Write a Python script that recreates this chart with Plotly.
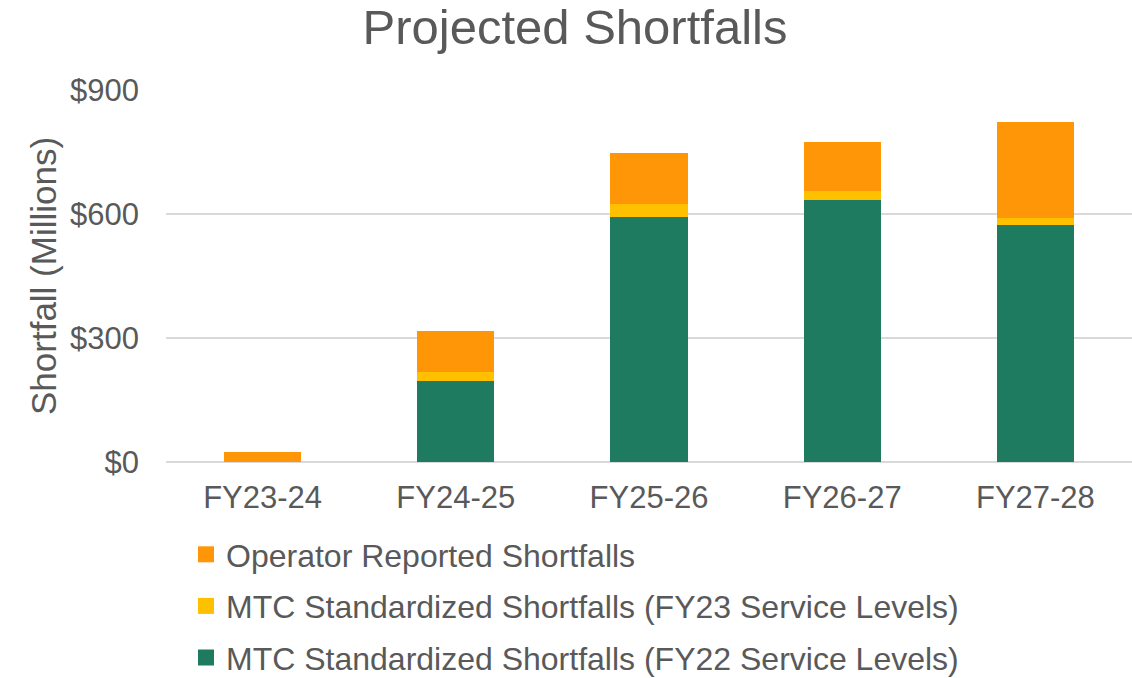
import plotly.graph_objects as go

categories = ["FY23-24", "FY24-25", "FY25-26", "FY26-27", "FY27-28"]
# Stacked segment values ($ millions)
mtc_fy22 = [0, 195, 593, 635, 573]
mtc_fy23 = [0, 22, 30, 20, 18]
operator = [24, 101, 125, 118, 231]

series_names = [
    "MTC Standardized Shortfalls (FY22 Service Levels)",
    "MTC Standardized Shortfalls (FY23 Service Levels)",
    "Operator Reported Shortfalls",
]
colors = ["#1E7B60", "#FFC000", "#FF9608"]
y_ticks = [0, 300, 600, 900]
y_tick_text = ["$0", "$300", "$600", "$900"]

FONT = "Liberation Sans, Arial, sans-serif"
TXT = "#595959"

fig = go.Figure()
for name, vals, col in zip(series_names, [mtc_fy22, mtc_fy23, operator], colors):
    fig.add_trace(go.Bar(x=categories, y=vals, name=name, marker=dict(color=col, line=dict(width=0)),
                         showlegend=False, legendgroup=name))
# legend entries (top to bottom: operator, FY23, FY22)
for name, col in reversed(list(zip(series_names, colors))):
    fig.add_trace(go.Scatter(x=[None], y=[None], mode="markers", name=name, legendgroup=name,
                             marker=dict(symbol="square", size=16, color=col)))

W, H = 1132, 678
fig.update_layout(
    width=W, height=H,
    barmode="stack", bargap=0.6,
    plot_bgcolor="white", paper_bgcolor="white",
    margin=dict(l=166, r=0, t=90, b=216, autoexpand=False),
    font=dict(family=FONT, size=31, color=TXT),
    title=dict(text="Projected Shortfalls", x=575 / W, xanchor="center", xref="container",
               y=1 - 27 / H, yanchor="middle", yref="container",
               font=dict(size=49, color=TXT, family=FONT)),
    legend=dict(orientation="v", traceorder="grouped", tracegroupgap=7,
                x=186 / W, xref="container", xanchor="left",
                y=1 - 527 / H, yref="container", yanchor="top",
                font=dict(size=32, color=TXT, family=FONT), itemwidth=30),
    xaxis=dict(showgrid=False, showline=False, ticks="", tickfont=dict(size=31, color=TXT),
               ticklabelstandoff=14),
    yaxis=dict(range=[0, 900], tickvals=y_ticks, ticktext=y_tick_text,
               showgrid=True, gridcolor="#D9D9D9", gridwidth=1.5,
               zeroline=True, zerolinecolor="#D9D9D9", zerolinewidth=1.5,
               showline=False, ticks="", ticklabelstandoff=26,
               tickfont=dict(size=31, color=TXT)),
    annotations=[dict(text="Shortfall (Millions)", textangle=-90, showarrow=False,
                      xref="paper", yref="paper", x=(43 - 166) / 966, y=0.5,
                      xanchor="center", yanchor="middle",
                      font=dict(size=35, color=TXT, family=FONT))],
)

fig.write_html("out.html", config={"displayModeBar": False},
               post_script="document.body.style.margin='0';document.body.style.overflow='hidden';")
